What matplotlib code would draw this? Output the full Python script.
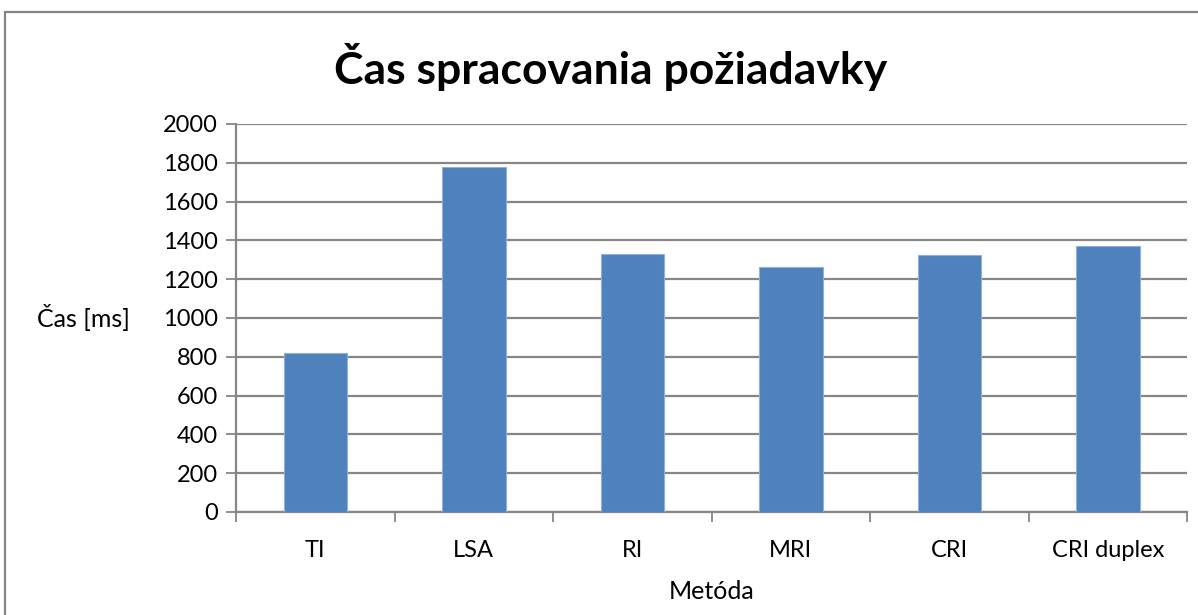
import matplotlib.pyplot as plt
from matplotlib.patches import Rectangle

methods = ["TI", "LSA", "RI", "MRI", "CRI", "CRI duplex"]
times_ms = [818, 1779, 1328, 1261, 1324, 1370]

bar_color = "#4F81BD"
grid_color = "#868686"

plt.rcParams["font.family"] = ["Lato", "DejaVu Sans"]

fig = plt.figure(figsize=(11.98, 6.15), dpi=100)
ax = fig.add_axes([0.197, 0.1675, 0.794, 0.631])

ax.bar(range(len(methods)), times_ms, width=0.4, color=bar_color,
       edgecolor="#8FB0DA", linewidth=0.8, zorder=3)

ax.set_xlim(-0.5, len(methods) - 0.5)
ax.set_ylim(0, 2000)
ax.set_yticks(range(0, 2001, 200))
ax.yaxis.grid(True, color=grid_color, linewidth=1.6, zorder=0)
ax.set_axisbelow(True)

ax.set_xticks(range(len(methods)))
ax.set_xticklabels(methods, fontsize=17)
ax.tick_params(axis="x", length=0, pad=20)
# category boundary ticks
ax.set_xticks([i - 0.5 for i in range(len(methods) + 1)], minor=True)
ax.tick_params(axis="x", which="minor", length=7, width=1.3, color=grid_color)
ax.tick_params(axis="y", labelsize=17, length=7, width=1.3, color=grid_color, pad=6)

for side in ["top", "right"]:
    ax.spines[side].set_visible(False)
for side in ["left", "bottom"]:
    ax.spines[side].set_color(grid_color)
    ax.spines[side].set_linewidth(1.6)

ax.set_xlabel("Metóda", fontsize=18, labelpad=14)
ax.set_ylabel("Čas [ms]", fontsize=18, rotation=0, labelpad=0)
ax.yaxis.set_label_coords(-0.16, 0.5)
ax.yaxis.label.set_va("center")

fig.suptitle("Čas spracovania požiadavky", fontsize=32, fontweight="bold",
             x=0.51, y=0.93)

# outer chart border
fig.patches.append(Rectangle((0.004, -0.01), 1.0, 0.99, transform=fig.transFigure,
                             fill=False, edgecolor=grid_color, linewidth=1.6))

fig.savefig("out.png", dpi=100)
